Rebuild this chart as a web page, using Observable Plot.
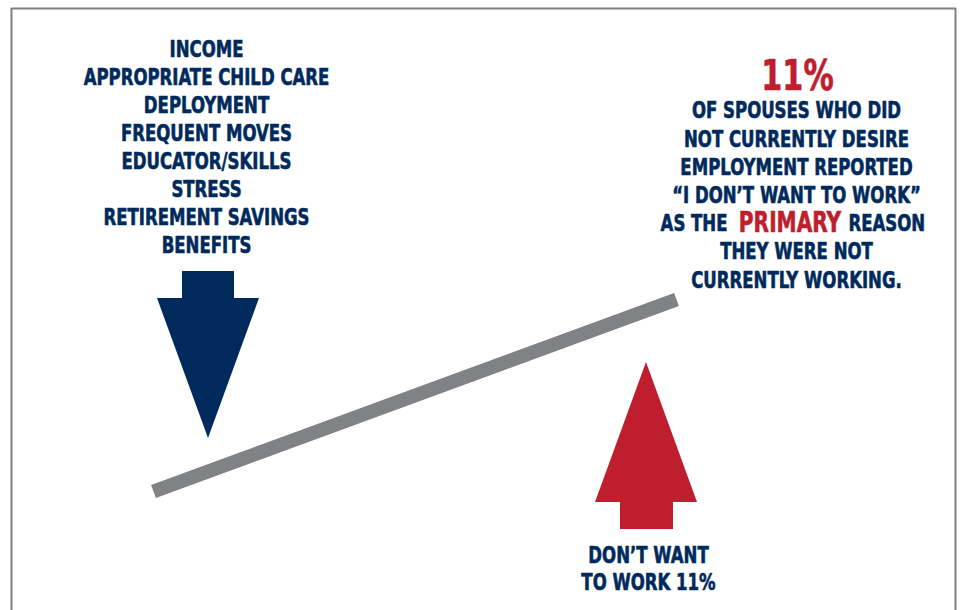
<!DOCTYPE html>
<html>
<head>
<meta charset="utf-8">
<script src="https://cdn.jsdelivr.net/npm/d3@7"></script>
<script src="https://cdn.jsdelivr.net/npm/@observablehq/plot@0.6"></script>
<style>
  html, body { margin: 0; padding: 0; background: #ffffff; }
  #chart svg { display: block; }
</style>
</head>
<body>
<div id="chart"></div>
<script>
// ---- content ----
const barriers = [
  "INCOME",
  "APPROPRIATE CHILD CARE",
  "DEPLOYMENT",
  "FREQUENT MOVES",
  "EDUCATOR/SKILLS",
  "STRESS",
  "RETIREMENT SAVINGS",
  "BENEFITS"
];
const statValue = 11; // percent
const statLines = [
  "OF SPOUSES WHO DID",
  "NOT CURRENTLY DESIRE",
  "EMPLOYMENT REPORTED",
  "\u201CI DON\u2019T WANT TO WORK\u201D",
  "AS THE PRIMARY REASON",
  "THEY WERE NOT",
  "CURRENTLY WORKING."
];
const emphasisWord = "PRIMARY";
const arrowLabel = ["DON\u2019T WANT", `TO WORK ${statValue}%`];

// ---- style ----
const navy = "#002a5c";
const red = "#be1e2d";
const beamGray = "#808285";
const frameGray = "#7f7f7f";
const font = "'Liberation Sans Narrow', 'DejaVu Sans Condensed', 'Arial Narrow', sans-serif";
const condense = 0.8; // horizontal squeeze to mimic a condensed display face

// ---- geometry of the see-saw illustration (pixel-space units) ----
const frameOutline = [[11, 615], [11, 8], [955, 8], [955, 615]];
const beam = [[153, 491], [676, 299]];
const downHead = [{x: 157, top: 298, tip: 298}, {x: 208, top: 298, tip: 438}, {x: 259, top: 298, tip: 298}];
const downStem = [{x1: 182, x2: 234, y1: 271, y2: 299}];
const upHead = [{x: 595, base: 502, tip: 502}, {x: 646, base: 502, tip: 362}, {x: 697, base: 502, tip: 502}];
const upStem = [{x1: 620, x2: 673, y1: 501, y2: 529}];

const textStyle = {fontFamily: font, fontWeight: "bold", textAnchor: "middle", strokeWidth: 0.6, paintOrder: "fill"};
const navyText = {...textStyle, fill: navy, stroke: navy};
const redText = {...textStyle, fill: red, stroke: red};
const statY = i => 110.5 + i * 28.2;
const emphIdx = statLines.findIndex(d => d.includes(emphasisWord));
const [emphBefore, emphAfter] = statLines[emphIdx].split(emphasisWord).map(s => s.trim());

const chart = Plot.plot({
  width: 960,
  height: 610,
  margin: 0,
  x: {type: "linear", domain: [0, 960], range: [0, 960], axis: null},
  y: {type: "linear", domain: [0, 610], range: [0, 610], axis: null},
  marks: [
    Plot.line(frameOutline, {x: d => d[0], y: d => d[1], stroke: frameGray, strokeWidth: 2}),
    Plot.line(beam, {x: d => d[0], y: d => d[1], stroke: beamGray, strokeWidth: 14, strokeLinecap: "butt"}),
    Plot.rect(downStem, {x1: "x1", x2: "x2", y1: "y1", y2: "y2", fill: navy}),
    Plot.areaY(downHead, {x: "x", y1: "top", y2: "tip", fill: navy, curve: "linear"}),
    Plot.rect(upStem, {x1: "x1", x2: "x2", y1: "y1", y2: "y2", fill: red}),
    Plot.areaY(upHead, {x: "x", y1: "base", y2: "tip", fill: red, curve: "linear"}),
    Plot.text(barriers, {...navyText, x: () => 206, y: (d, i) => 49.5 + i * 28, text: d => d, fontSize: 23}),
    Plot.text([`${statValue}%`], {...redText, x: () => 797, y: () => 76, text: d => d, fontSize: 42}),
    Plot.text(statLines, {...navyText, x: () => 796, y: (d, i) => statY(i), text: d => d,
      filter: d => !d.includes(emphasisWord), fontSize: 23}),
    Plot.text([emphBefore], {...navyText, textAnchor: "end", x: () => 727, y: () => statY(emphIdx), text: d => d, fontSize: 23}),
    Plot.text([emphasisWord], {...redText, x: () => 789.5, y: () => statY(emphIdx) - 0.5, text: d => d, fontSize: 28}),
    Plot.text([emphAfter], {...navyText, textAnchor: "start", x: () => 848, y: () => statY(emphIdx), text: d => d, fontSize: 23}),
    Plot.text(arrowLabel, {...navyText, x: () => 648, y: (d, i) => 555.5 + i * 27, text: d => d, fontSize: 23})
  ]
});

// condense every label horizontally about its anchor (keeps real text)
d3.select(chart).selectAll("text").each(function () {
  const tr = this.getAttribute("transform");
  if (tr && tr.includes("translate")) {
    this.setAttribute("transform", `${tr} scale(${condense},1)`);
  } else {
    const x = +(this.getAttribute("x") || 0);
    this.setAttribute("transform", `translate(${x * (1 - condense)},0) scale(${condense},1)`);
  }
});

document.getElementById("chart").append(chart);
</script>
</body>
</html>
